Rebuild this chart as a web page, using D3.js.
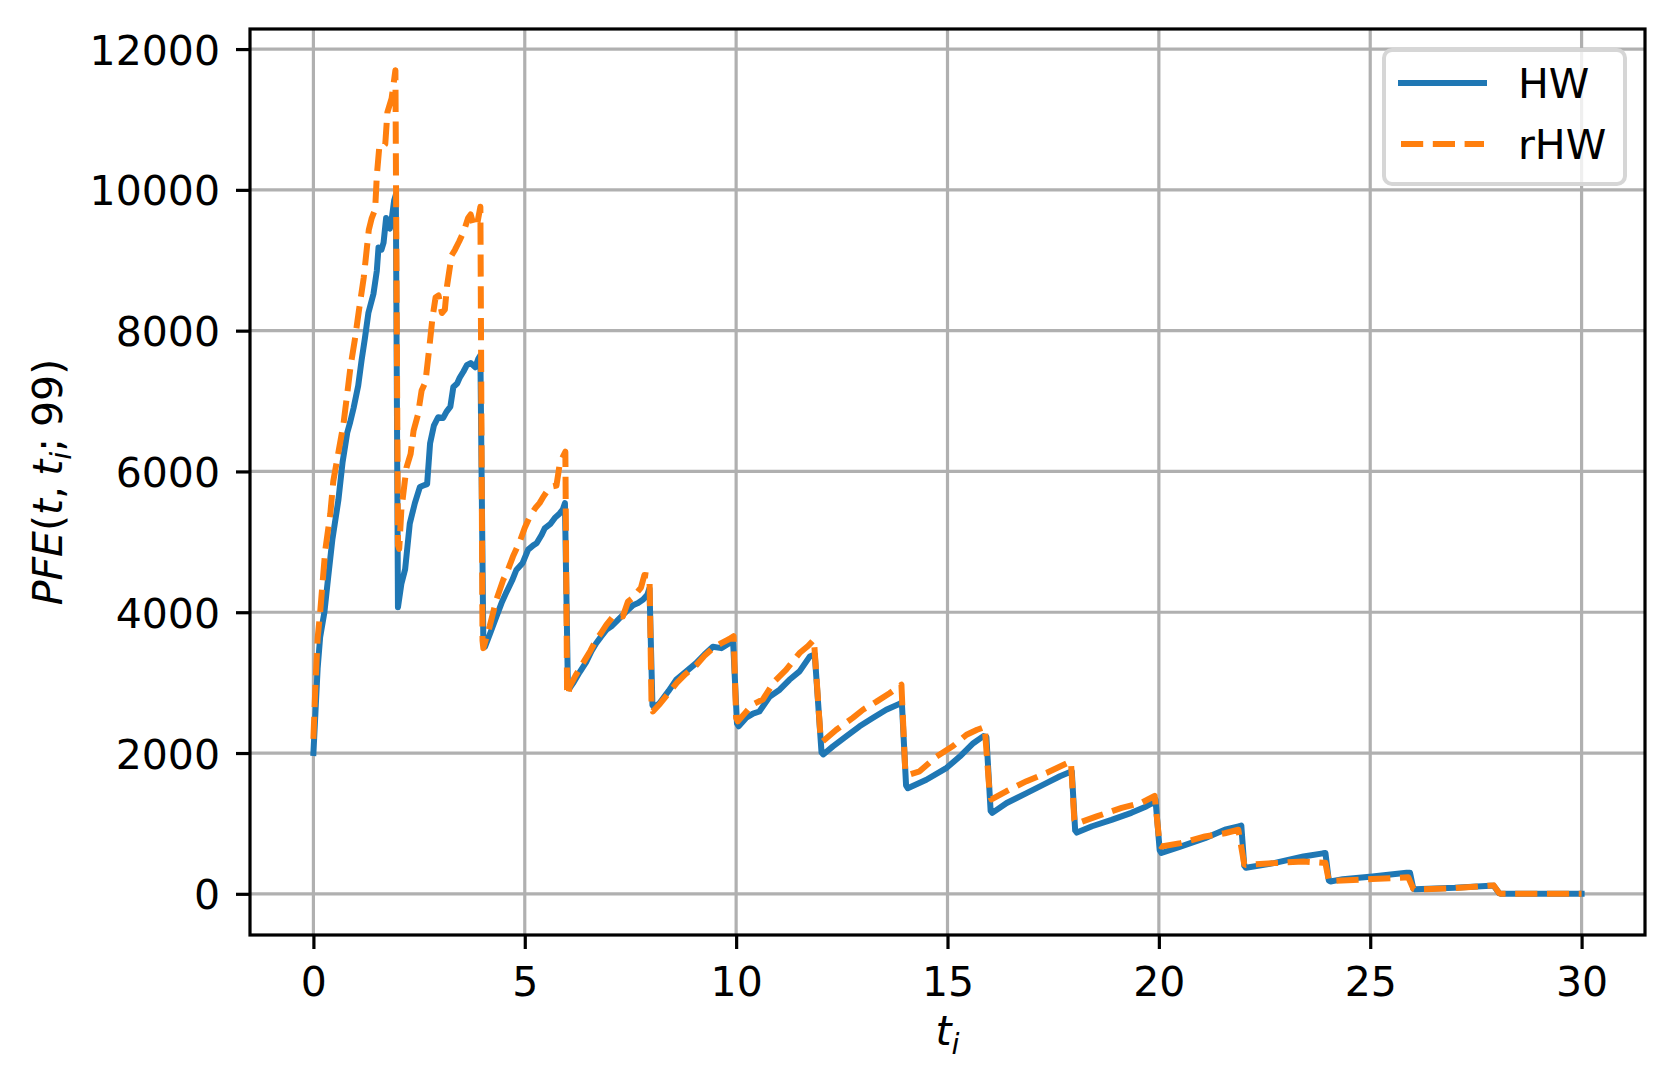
<!DOCTYPE html>
<html>
<head>
<meta charset="utf-8">
<script src="https://cdn.jsdelivr.net/npm/d3@7"></script>
<style>
  html, body { margin: 0; padding: 0; background: #fff; }
  svg { display: block; }
  text { font-family: "DejaVu Sans", sans-serif; fill: #000; }
</style>
</head>
<body>
<svg id="chart" width="1674" height="1091"></svg>
<script>
// ---------- data ----------
const seriesNames = ["HW", "rHW"];
const seriesColors = ["#1f77b4", "#ff7f0e"];

const hwT = [
  0, 0.05, 0.10, 0.16, 0.26, 0.35, 0.45, 0.59, 0.69, 0.80, 0.87, 0.95, 1.06, 1.14, 1.22, 1.30, 1.42, 1.50, 1.54, 1.61, 1.66, 1.72, 1.81, 1.86, 1.91, 1.95,
  2.00, 2.08, 2.17, 2.28, 2.40, 2.52, 2.60, 2.69, 2.76, 2.85, 2.95, 3.07, 3.15, 3.24, 3.31, 3.40, 3.46, 3.55, 3.63, 3.72, 3.83, 3.90, 3.95,
  4.02, 4.06, 4.20, 4.33, 4.45, 4.57, 4.70, 4.80, 4.95, 5.08, 5.20, 5.28, 5.40, 5.47, 5.60, 5.71, 5.82, 5.90, 5.95,
  6.02, 6.06, 6.14, 6.30, 6.46, 6.58, 6.69, 6.80, 6.93, 7.05, 7.17, 7.30, 7.40, 7.56, 7.68, 7.80, 7.90, 7.95,
  8.02, 8.06, 8.19, 8.40, 8.58, 8.80, 9.06, 9.25, 9.45, 9.65, 9.84, 9.93,
  10.02, 10.06, 10.24, 10.40, 10.55, 10.79, 11.03, 11.26, 11.50, 11.74, 11.86,
  12.02, 12.06, 12.29, 12.61, 12.92, 13.24, 13.55, 13.87, 13.92,
  14.02, 14.06, 14.50, 14.98, 15.29, 15.61, 15.85, 15.92,
  16.02, 16.06, 16.40, 16.87, 17.35, 17.66, 17.90, 17.94,
  18.02, 18.06, 18.42, 18.88, 19.35, 19.70, 19.87, 19.92,
  20.02, 20.06, 20.51, 21.09, 21.56, 21.91, 21.95,
  22.02, 22.06, 22.72, 23.42, 23.88, 23.94,
  24.02, 24.06, 24.35, 25.05, 25.86, 25.94,
  26.02, 26.06, 27.00, 27.84, 27.92,
  28.05, 28.10, 30.00
];
const hwV = [
  2000, 2600, 3200, 3650, 4000, 4500, 5040, 5590, 6130, 6550, 6700, 6900, 7220, 7580, 7900, 8250, 8520, 8850, 9180, 9150, 9250, 9600, 9450, 9620, 9850, 9930,
  4070, 4400, 4610, 5260, 5550, 5780, 5800, 5820, 6400, 6650, 6770, 6760, 6850, 6920, 7200, 7250, 7330, 7420, 7510, 7540, 7480, 7600, 7650,
  3560, 3510, 3730, 3940, 4130, 4290, 4450, 4600, 4700, 4890, 4950, 4980, 5100, 5190, 5250, 5340, 5400, 5460, 5550,
  2950, 2920, 2990, 3150, 3300, 3450, 3560, 3650, 3750, 3800, 3870, 3950, 4010, 4100, 4130, 4180, 4250, 4340,
  2680, 2650, 2710, 2880, 3040, 3150, 3280, 3400, 3510, 3490, 3560, 3560,
  2420, 2380, 2500, 2560, 2590, 2800, 2900, 3040, 3160, 3370, 3400,
  2010, 1980, 2095, 2240, 2380, 2500, 2615, 2700, 2720,
  1540, 1500, 1620, 1790, 1950, 2140, 2240, 2230,
  1180, 1150, 1290, 1430, 1575, 1670, 1730, 1740,
  900, 870, 960, 1050, 1150, 1240, 1300, 1340,
  620, 580, 670, 790, 910, 960, 970,
  400, 370, 436, 530, 575, 580,
  190, 175, 208, 246, 300, 300,
  70, 66, 85, 114, 115,
  10, 0, 0
];

const rhwT = [
  0, 0.05, 0.10, 0.16, 0.28, 0.40, 0.47, 0.60, 0.71, 0.82, 0.88, 0.98, 1.08, 1.19, 1.31, 1.38, 1.46, 1.50, 1.56, 1.62, 1.70, 1.75, 1.85, 1.94,
  2.00, 2.03, 2.08, 2.20, 2.30, 2.37, 2.47, 2.56, 2.65, 2.74, 2.82, 2.89, 2.96, 3.04, 3.11, 3.16, 3.27, 3.35, 3.45, 3.55, 3.66, 3.72, 3.80, 3.87, 3.95,
  4.00, 4.02, 4.17, 4.33, 4.49, 4.60, 4.72, 4.88, 5.00, 5.12, 5.25, 5.35, 5.45, 5.55, 5.67, 5.75, 5.83, 5.96,
  6.00, 6.03, 6.06, 6.20, 6.38, 6.55, 6.69, 6.80, 6.93, 7.09, 7.20, 7.32, 7.44, 7.55, 7.64, 7.75, 7.83, 7.95,
  8.00, 8.03, 8.20, 8.40, 8.60, 8.80, 9.06, 9.25, 9.45, 9.65, 9.84, 9.94,
  10.00, 10.04, 10.20, 10.39, 10.63, 10.91, 11.18, 11.50, 11.70, 11.84,
  12.00, 12.05, 12.37, 12.76, 13.00, 13.32, 13.63, 13.91,
  14.00, 14.07, 14.34, 14.74, 15.13, 15.45, 15.70, 15.88,
  16.00, 16.04, 16.40, 16.87, 17.35, 17.70, 17.92,
  18.00, 18.07, 18.53, 19.12, 19.58, 19.90,
  20.02, 20.06, 20.51, 21.09, 21.56, 21.88,
  22.02, 22.06, 22.72, 23.42, 23.88, 23.94,
  24.02, 24.06, 25.05, 25.60, 25.90,
  26.02, 26.06, 27.00, 27.70, 27.92,
  28.05, 28.10, 30.00
];
const rhwV = [
  2200, 3000, 3630, 4000, 4880, 5400, 5860, 6300, 6670, 7200, 7500, 7870, 8300, 8750, 9430, 9600, 9720, 10200, 10620, 10600, 10650, 11100, 11300, 11700,
  4950, 4900, 5450, 6050, 6250, 6580, 6800, 7150, 7270, 7750, 8200, 8470, 8500, 8250, 8300, 8630, 9070, 9150, 9270, 9400, 9600, 9650, 9480, 9500, 9760,
  3600, 3490, 3800, 4180, 4460, 4600, 4790, 5000, 5200, 5360, 5480, 5550, 5650, 5740, 5790, 5800, 6120, 6280,
  2900, 2820, 2940, 3100, 3280, 3450, 3610, 3700, 3820, 3940, 3950, 3940, 4150, 4200, 4270, 4350, 4530, 4520,
  2650, 2590, 2700, 2850, 3000, 3120, 3250, 3380, 3490, 3560, 3620, 3660,
  2500, 2450, 2560, 2690, 2760, 3020, 3180, 3420, 3520, 3610,
  2200, 2165, 2330, 2500, 2615, 2730, 2850, 2970,
  1750, 1690, 1740, 1950, 2100, 2260, 2330, 2370,
  1400, 1340, 1460, 1600, 1720, 1820, 1880,
  1050, 1000, 1100, 1220, 1290, 1390,
  690, 673, 720, 815, 860, 910,
  420, 410, 436, 460, 440, 440,
  190, 180, 210, 225, 235,
  70, 60, 80, 110, 120,
  10, 0, 0
];

const xTicks = [0, 5, 10, 15, 20, 25, 30];
const yTicks = [0, 2000, 4000, 6000, 8000, 10000, 12000];

// ---------- layout ----------
const W = 1674, H = 1091;
const plot = { left: 250, right: 1645, top: 29, bottom: 935 };
const FS = 41;            // 10pt font at figure dpi
const LW = 6;             // 1.5pt line width
const GRID_W = 3.2, SPINE_W = 3.2, TICK_LEN = 14, TICK_PAD = 14;

const svg = d3.select("#chart");
svg.append("rect").attr("width", W).attr("height", H).attr("fill", "#fff");

const hw = d3.zip(hwT, hwV);
const rhw = d3.zip(rhwT, rhwV);
const all = hw.concat(rhw);

const xExt = d3.extent(all, d => d[0]);
const yExt = d3.extent(all, d => d[1]);
const xPad = (xExt[1] - xExt[0]) * 0.05, yPad = (yExt[1] - yExt[0]) * 0.05;

const x = d3.scaleLinear().domain([xExt[0] - xPad, xExt[1] + xPad]).range([plot.left, plot.right]);
const y = d3.scaleLinear().domain([yExt[0] - yPad, yExt[1] + yPad]).range([plot.bottom, plot.top]);

svg.append("defs").append("clipPath").attr("id", "clip")
  .append("rect").attr("x", plot.left).attr("y", plot.top)
  .attr("width", plot.right - plot.left).attr("height", plot.bottom - plot.top);

// grid
const grid = svg.append("g");
grid.selectAll("line.vx").data(xTicks).join("line")
  .attr("x1", d => x(d)).attr("x2", d => x(d))
  .attr("y1", plot.top).attr("y2", plot.bottom)
  .attr("stroke", "#b0b0b0").attr("stroke-width", GRID_W);
grid.selectAll("line.hy").data(yTicks).join("line")
  .attr("class", "hy")
  .attr("y1", d => y(d)).attr("y2", d => y(d))
  .attr("x1", plot.left).attr("x2", plot.right)
  .attr("stroke", "#b0b0b0").attr("stroke-width", GRID_W);

// lines
const line = d3.line().x(d => x(d[0])).y(d => y(d[1]));
const lines = svg.append("g").attr("clip-path", "url(#clip)");
lines.append("path").datum(hw).attr("d", line)
  .attr("fill", "none").attr("stroke", seriesColors[0]).attr("stroke-width", LW)
  .attr("stroke-linejoin", "round").attr("stroke-linecap", "square");
lines.append("path").datum(rhw).attr("d", line)
  .attr("fill", "none").attr("stroke", seriesColors[1]).attr("stroke-width", LW)
  .attr("stroke-linejoin", "round").attr("stroke-linecap", "butt")
  .attr("stroke-dasharray", `${3.7 * LW},${1.6 * LW}`);

// axes via d3 axis generators
const xAxis = d3.axisBottom(x).tickValues(xTicks).tickSize(TICK_LEN).tickPadding(TICK_PAD).tickFormat(d3.format("d"));
const yAxis = d3.axisLeft(y).tickValues(yTicks).tickSize(TICK_LEN).tickPadding(TICK_PAD + 2).tickFormat(d3.format("d"));

const gx = svg.append("g").attr("transform", `translate(0,${plot.bottom})`).call(xAxis);
const gy = svg.append("g").attr("transform", `translate(${plot.left},0)`).call(yAxis);
[gx, gy].forEach(g => {
  g.select(".domain").remove();
  g.selectAll(".tick line").attr("stroke", "#000").attr("stroke-width", SPINE_W);
  g.selectAll(".tick text").attr("font-family", "DejaVu Sans").attr("font-size", FS).attr("fill", "#000");
});
gx.selectAll(".tick text").attr("dy", null).attr("y", 61);
gy.selectAll(".tick text").attr("dy", null).attr("dominant-baseline", "central").attr("y", 1);

// spines
svg.append("rect")
  .attr("x", plot.left).attr("y", plot.top)
  .attr("width", plot.right - plot.left).attr("height", plot.bottom - plot.top)
  .attr("fill", "none").attr("stroke", "#000").attr("stroke-width", SPINE_W)
  .attr("stroke-linejoin", "miter");

// x label  t_i
const xl = svg.append("text")
  .attr("x", (plot.left + plot.right) / 2).attr("y", 1045)
  .attr("text-anchor", "middle").attr("font-size", FS);
xl.append("tspan").attr("font-style", "italic").text("t");
xl.append("tspan").attr("font-style", "italic").attr("font-size", FS * 0.7).attr("dy", 9).text("i");

// y label  PFE(t, t_i; 99)
const yl = svg.append("text")
  .attr("transform", `translate(62,${(plot.top + plot.bottom) / 2}) rotate(-90)`)
  .attr("text-anchor", "middle").attr("font-size", FS);
yl.append("tspan").attr("font-style", "italic").text("PFE");
yl.append("tspan").text("(");
yl.append("tspan").attr("font-style", "italic").text("t");
yl.append("tspan").text(",");
yl.append("tspan").attr("font-style", "italic").attr("dx", 10).text("t");
yl.append("tspan").attr("font-style", "italic").attr("font-size", FS * 0.7).attr("dy", 9).text("i");
yl.append("tspan").attr("dy", -9).text(";");
yl.append("tspan").attr("dx", 11).text("99)");

// legend
const lg = svg.append("g");
lg.append("rect").attr("x", 1384).attr("y", 50).attr("width", 241).attr("height", 134)
  .attr("rx", 8).attr("ry", 8)
  .attr("fill", "#fff").attr("fill-opacity", 0.8)
  .attr("stroke", "#d6d6d6").attr("stroke-width", 4);
const legendRows = seriesNames.map((name, i) => ({ name, color: seriesColors[i], dashed: i === 1, yy: i === 0 ? 83 : 144 }));
legendRows.forEach(r => {
  lg.append("line").attr("x1", 1401).attr("x2", 1484).attr("y1", r.yy).attr("y2", r.yy)
    .attr("stroke", r.color).attr("stroke-width", LW)
    .attr("stroke-linecap", r.dashed ? "butt" : "square")
    .attr("stroke-dasharray", r.dashed ? `${3.7 * LW},${1.6 * LW}` : null);
  lg.append("text").attr("x", 1518).attr("y", r.yy + 14.5).attr("font-size", FS).text(r.name);
});
</script>
</body>
</html>
